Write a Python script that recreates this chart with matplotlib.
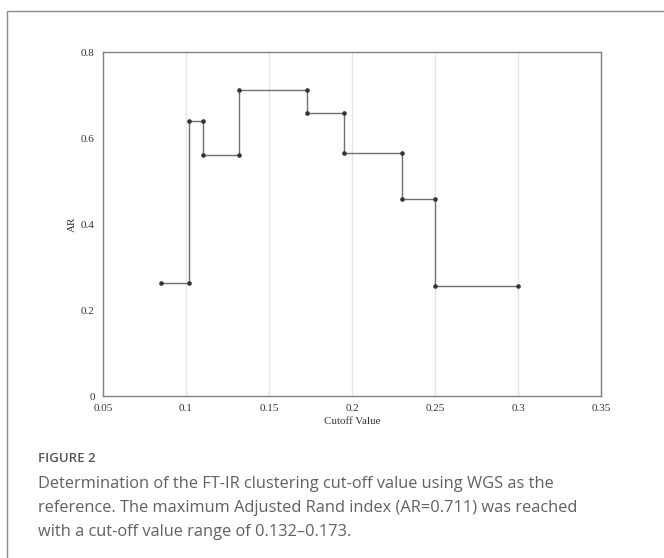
import matplotlib
matplotlib.use("Agg")
import matplotlib.pyplot as plt
from matplotlib.patches import Rectangle

# Data (step points)
cutoff = [0.085, 0.102, 0.102, 0.110, 0.110, 0.132, 0.132, 0.173, 0.173, 0.195, 0.195, 0.230, 0.230, 0.250, 0.250, 0.300]
ar = [0.262, 0.262, 0.640, 0.640, 0.561, 0.561, 0.711, 0.711, 0.657, 0.657, 0.566, 0.566, 0.459, 0.459, 0.255, 0.255]
xticks = [0.05, 0.1, 0.15, 0.2, 0.25, 0.3, 0.35]
xtick_labels = ["0.05", "0.1", "0.15", "0.2", "0.25", "0.3", "0.35"]
yticks = [0, 0.2, 0.4, 0.6, 0.8]
ytick_labels = ["0", "0.2", "0.4", "0.6", "0.8"]

W, H = 664, 558
fig = plt.figure(figsize=(W / 100, H / 100), dpi=100)
fig.patch.set_facecolor("white")

# outer frame
fig.add_artist(Rectangle((7 / W, -0.1), 1.2, 1 - 11 / H + 0.1, transform=fig.transFigure,
                         fill=False, edgecolor="#8a8a8a", linewidth=1.0))

ax_l, ax_r, ax_t, ax_b = 103, 601, 52, 396
ax = fig.add_axes([ax_l / W, 1 - ax_b / H, (ax_r - ax_l) / W, (ax_b - ax_t) / H])
ax.plot(cutoff, ar, color="#707070", linewidth=1.0, marker="o", markersize=2.3,
        markerfacecolor="#333333", markeredgecolor="#333333", zorder=3)
ax.set_xlim(0.05, 0.35)
ax.set_ylim(0, 0.8)
ax.set_xticks(xticks)
ax.set_xticklabels(xtick_labels)
ax.set_yticks(yticks)
ax.set_yticklabels(ytick_labels)
ax.grid(axis="x", color="#e6e6e6", linewidth=1.0)
ax.set_axisbelow(True)
for s in ax.spines.values():
    s.set_color("#808080")
    s.set_linewidth(1.0)
ax.tick_params(length=0, labelsize=8, colors="#333333", pad=6)
for lab in ax.get_xticklabels() + ax.get_yticklabels():
    lab.set_fontfamily("Liberation Serif")
ax.set_xlabel("Cutoff Value", fontfamily="Liberation Serif", fontsize=8, color="#333333", labelpad=3)
ax.set_ylabel("AR", fontfamily="Liberation Serif", fontsize=8, color="#333333", labelpad=3)

# caption
fig.text(38 / W, 1 - 459 / H, "FIGURE 2", fontfamily="Open Sans", fontsize=9.5,
         fontweight="semibold", color="#555555", va="center")
caption = ["Determination of the FT-IR clustering cut-off value using WGS as the",
           "reference. The maximum Adjusted Rand index (AR=0.711) was reached",
           "with a cut-off value range of 0.132\u20130.173."]
for i, line in enumerate(caption):
    fig.text(38 / W, 1 - (484 + 24 * i) / H, line, fontfamily="Open Sans", fontsize=11.8,
             color="#606060", va="center")

fig.savefig("out.png", dpi=100)
